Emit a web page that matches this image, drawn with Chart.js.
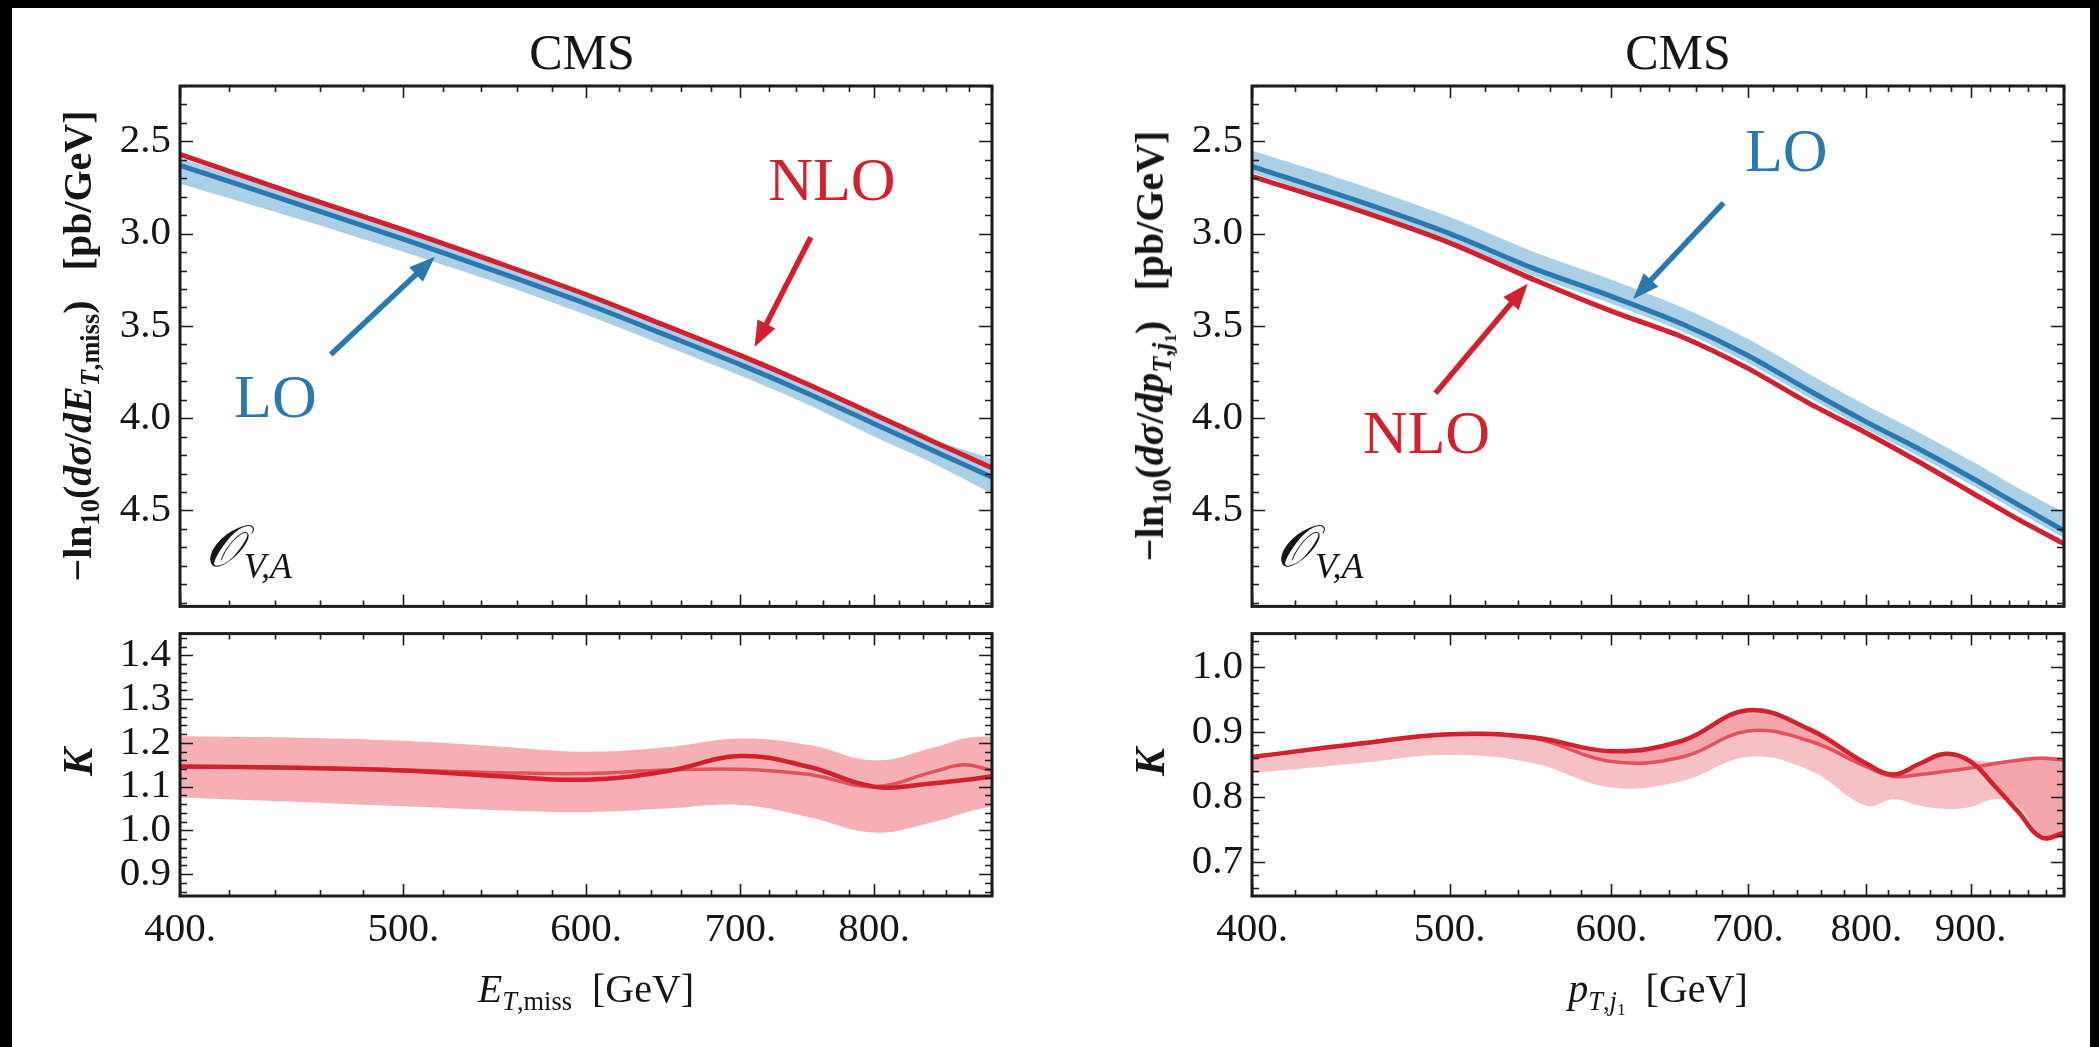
<!DOCTYPE html>
<html>
<head>
<meta charset="utf-8">
<title>CMS: LO and NLO spectra with K factors</title>
<script src="https://cdn.jsdelivr.net/npm/chart.js@4.4.1/dist/chart.umd.min.js"></script>
<style>
  html, body { margin:0; padding:0; width:2099px; height:1047px; background:#000; overflow:hidden; }
  #sheet { position:absolute; left:12px; top:8px; width:2078px; height:1060px; background:#fff; }
  canvas { position:absolute; }
  .lbl { position:absolute; font-family:"Liberation Serif","Times New Roman",serif; color:#151515; white-space:nowrap; line-height:1; }
  .lbl sub { font-size:0.66em; vertical-align:-0.3em; line-height:0; }
  .rot { transform: translate(-50%,-50%) rotate(-90deg); }
  .ctr { transform: translate(-50%,-50%); }
</style>
</head>
<body>
<div id="sheet"></div>

<canvas id="etTop" width="1020" height="640" style="left:0;top:0"></canvas>
<canvas id="etK"   width="1020" height="447" style="left:0;top:600px"></canvas>
<canvas id="ptTop" width="1020" height="640" style="left:1070px;top:0"></canvas>
<canvas id="ptK"   width="1020" height="447" style="left:1070px;top:600px"></canvas>

<div class="lbl ctr" style="left:582px;top:52px;font-size:50px">CMS</div>
<div class="lbl ctr" style="left:1678px;top:52px;font-size:50px">CMS</div>

<div class="lbl rot" style="left:78px;top:346px;font-size:40px;font-weight:bold">&minus;ln<sub>10</sub>(<i>d&sigma;</i>/<i>dE</i><sub><i>T</i>,miss</sub>)&nbsp;&nbsp;&nbsp;[pb/GeV]</div>
<div class="lbl rot" style="left:1150px;top:346px;font-size:40px;font-weight:bold">&minus;ln<sub>10</sub>(<i>d&sigma;</i>/<i>dp</i><sub><i>T</i>,<i>j</i><sub>1</sub></sub>)&nbsp;&nbsp;&nbsp;[pb/GeV]</div>
<div class="lbl rot" style="left:78px;top:762px;font-size:42px;font-weight:bold;font-style:italic">K</div>
<div class="lbl rot" style="left:1150px;top:762px;font-size:42px;font-weight:bold;font-style:italic">K</div>

<div class="lbl ctr" style="left:586px;top:989px;font-size:40px"><i>E</i><sub><i>T</i>,miss</sub>&nbsp;&nbsp;[GeV]</div>
<div class="lbl ctr" style="left:1658px;top:989px;font-size:40px"><i>p</i><sub><i>T</i>,<i>j</i><sub>1</sub></sub>&nbsp;&nbsp;[GeV]</div>

<script>
// ---------- E_T,miss distribution (left column) ----------
const etX      = [400, 450, 500, 550, 600, 650, 700, 750, 800, 850, 900];
const etNLO    = [2.57, 2.79, 2.98, 3.16, 3.33, 3.50, 3.66, 3.82, 3.98, 4.13, 4.27];
const etLO     = [2.63, 2.84, 3.03, 3.21, 3.38, 3.55, 3.71, 3.87, 4.03, 4.18, 4.32];
const etLOlow  = [2.59, 2.80, 2.99, 3.17, 3.34, 3.51, 3.67, 3.83, 3.99, 4.12, 4.22];
const etLOhigh = [2.73, 2.92, 3.10, 3.27, 3.44, 3.61, 3.77, 3.93, 4.10, 4.25, 4.41];

const etKX     = [400, 450, 500, 550, 600, 650, 700, 750, 800, 850, 875, 900];
const etKa     = [1.146, 1.143, 1.137, 1.124, 1.116, 1.135, 1.170, 1.145, 1.100, 1.108, 1.115, 1.124];
const etKb     = [1.146, 1.143, 1.138, 1.132, 1.130, 1.138, 1.140, 1.128, 1.100, 1.135, 1.150, 1.137];
const etKlow   = [1.075, 1.065, 1.055, 1.046, 1.042, 1.050, 1.058, 1.030, 0.995, 1.020, 1.040, 1.055];
const etKhigh  = [1.215, 1.212, 1.205, 1.192, 1.180, 1.190, 1.210, 1.195, 1.160, 1.190, 1.210, 1.215];

// ---------- leading-jet p_T distribution (right column) ----------
const ptX      = [400, 450, 500, 550, 600, 650, 700, 750, 800, 850, 900, 950, 1000];
const ptNLO    = [2.69, 2.87, 3.05, 3.25, 3.42, 3.56, 3.73, 3.92, 4.08, 4.24, 4.40, 4.55, 4.68];
const ptLO     = [2.635, 2.82, 3.00, 3.19, 3.34, 3.49, 3.66, 3.85, 4.02, 4.17, 4.32, 4.47, 4.61];
const ptLOlow  = [2.55, 2.73, 2.91, 3.10, 3.25, 3.40, 3.57, 3.76, 3.93, 4.08, 4.23, 4.38, 4.51];
const ptLOhigh = [2.67, 2.86, 3.04, 3.23, 3.38, 3.53, 3.70, 3.89, 4.06, 4.21, 4.36, 4.51, 4.65];

const ptKX     = [400, 450, 500, 550, 600, 650, 700, 750, 800, 825, 850, 875, 900, 925, 950, 975, 1000];
const ptKa     = [0.862, 0.882, 0.897, 0.892, 0.871, 0.887, 0.934, 0.905, 0.852, 0.835, 0.852, 0.867, 0.855, 0.817, 0.777, 0.738, 0.745];
const ptKb     = [0.862, 0.882, 0.897, 0.891, 0.855, 0.862, 0.902, 0.887, 0.847, 0.832, 0.835, 0.840, 0.845, 0.852, 0.857, 0.860, 0.857];
const ptKlow   = [0.837, 0.852, 0.865, 0.852, 0.815, 0.825, 0.862, 0.842, 0.787, 0.797, 0.787, 0.782, 0.785, 0.797, 0.787, 0.738, 0.737];
const ptKhigh  = [0.865, 0.885, 0.900, 0.895, 0.874, 0.890, 0.937, 0.908, 0.855, 0.838, 0.855, 0.870, 0.858, 0.855, 0.860, 0.863, 0.860];

// ---------- axes ----------
const specTicks = [2.5, 3.0, 3.5, 4.0, 4.5];
const etKTicks  = [0.9, 1.0, 1.1, 1.2, 1.3, 1.4];
const ptKTicks  = [0.7, 0.8, 0.9, 1.0];
const etXTicks  = [400, 500, 600, 700, 800];
const ptXTicks  = [400, 500, 600, 700, 800, 900];

const FONT = '"Liberation Serif", "Times New Roman", serif';
const INK = '#151515';
const RED = '#d3202f', RED_LIGHT = '#e2525e', BLUE = '#2a78b0';
const BLUE_BAND = '#abd0e6', PINK_BAND = '#f5afb5';

const pts = (xs, ys) => xs.map((x, i) => ({ x, y: ys[i] }));
const curve = (xs, ys, color, width, tension) => ({
  data: pts(xs, ys), borderColor: color, borderWidth: width, pointRadius: 0,
  tension: tension, fill: false, borderCapStyle: 'round', borderJoinStyle: 'round'
});
const edge = (xs, ys, fill, bg, tension) => ({
  data: pts(xs, ys), borderWidth: 0, borderColor: 'rgba(0,0,0,0)', pointRadius: 0,
  tension: tension, fill: fill, backgroundColor: bg
});

// Frame with inward ticks on all four sides, placed through the chart's scales
const framePlugin = {
  id: 'frame',
  afterDatasetsDraw(chart) {
    const o = chart.options.plugins.frame;
    const { ctx, chartArea: a } = chart;
    const xs = chart.scales.x, ys = chart.scales.y;
    ctx.save();
    ctx.strokeStyle = '#1b1b1b';
    ctx.lineWidth = 1.6;
    ctx.beginPath();
    const lo = Math.min(ys.min, ys.max), hi = Math.max(ys.min, ys.max);
    for (let k = Math.ceil(lo / o.yStep - 1e-6); k * o.yStep <= hi + 1e-9; k++) {
      const v = k * o.yStep;
      const major = o.yMajor.some(m => Math.abs(m - v) < 1e-6);
      const len = major ? 13 : 7;
      const p = Math.round(ys.getPixelForValue(v)) + 0.5;
      ctx.moveTo(a.left, p); ctx.lineTo(a.left + len, p);
      ctx.moveTo(a.right, p); ctx.lineTo(a.right - len, p);
    }
    for (let v = xs.min; v <= xs.max + 1e-9; v += o.xStep) {
      const major = o.xMajor.includes(v);
      const len = major ? 12 : 6;
      const p = Math.round(xs.getPixelForValue(v)) + 0.5;
      ctx.moveTo(p, a.bottom); ctx.lineTo(p, a.bottom - len);
      ctx.moveTo(p, a.top); ctx.lineTo(p, a.top + len);
    }
    ctx.stroke();
    ctx.lineWidth = 3;
    ctx.strokeRect(a.left, a.top, a.right - a.left, a.bottom - a.top);
    ctx.restore();
  }
};

// Curve labels, arrows and the operator tag, anchored in data coordinates
const notePlugin = {
  id: 'notes',
  afterDatasetsDraw(chart) {
    const o = chart.options.plugins.notes;
    if (!o) return;
    const { ctx } = chart;
    const xs = chart.scales.x, ys = chart.scales.y;
    const px = p => [xs.getPixelForValue(p[0]), ys.getPixelForValue(p[1])];
    ctx.save();
    (o.arrows || []).forEach(ar => {
      const [x0, y0] = px(ar.from), [x1, y1] = px(ar.to);
      const ang = Math.atan2(y1 - y0, x1 - x0);
      const hl = 26, hw = 10;
      const bx = x1 - hl * Math.cos(ang), by = y1 - hl * Math.sin(ang);
      ctx.strokeStyle = ar.color; ctx.fillStyle = ar.color;
      ctx.lineWidth = 5.5; ctx.lineCap = 'butt';
      ctx.beginPath(); ctx.moveTo(x0, y0); ctx.lineTo(bx + 4 * Math.cos(ang), by + 4 * Math.sin(ang)); ctx.stroke();
      ctx.beginPath();
      ctx.moveTo(x1, y1);
      ctx.lineTo(bx + hw * Math.sin(ang), by - hw * Math.cos(ang));
      ctx.lineTo(bx - hw * Math.sin(ang), by + hw * Math.cos(ang));
      ctx.closePath(); ctx.fill();
    });
    (o.texts || []).forEach(t => {
      const [x, y] = px(t.at);
      ctx.font = t.font; ctx.fillStyle = t.color;
      ctx.textAlign = 'center'; ctx.textBaseline = 'middle';
      ctx.fillText(t.text, x, y);
    });
    if (o.tag) {
      const [x, y] = px(o.tag.at);
      ctx.fillStyle = INK; ctx.textAlign = 'left'; ctx.textBaseline = 'alphabetic';
      ctx.font = 'italic 58px ' + FONT;
      ctx.fillText('\u{1D4AA}', x, y);
      const w = ctx.measureText('\u{1D4AA}').width;
      ctx.font = 'italic 36px ' + FONT;
      ctx.fillText('V,A', x + w + 2, y + 12);
    }
    ctx.restore();
  }
};

function yAxis(min, max, ticks, width, reverse) {
  return {
    type: 'linear', position: 'left', reverse, min, max,
    grid: { display: false, drawTicks: false }, border: { display: false },
    afterBuildTicks: s => { s.ticks = ticks.map(v => ({ value: v })); },
    afterFit: s => { s.width = width; },
    ticks: { font: { family: FONT, size: 41 }, color: INK, padding: 9, autoSkip: false,
             callback: v => Number(v).toFixed(1) }
  };
}
function xAxis(max, ticks, show) {
  const ax = {
    type: 'logarithmic', min: 400, max, display: show,
    grid: { display: false, drawTicks: false }, border: { display: false }
  };
  if (show) {
    ax.afterBuildTicks = s => { s.ticks = ticks.map(v => ({ value: v })); };
    ax.afterFit = s => { s.height = 151; };
    ax.ticks = { font: { family: FONT, size: 41 }, color: INK, padding: 10,
                 autoSkip: false, maxRotation: 0, callback: v => v + '.' };
  }
  return ax;
}
function make(id, datasets, scales, padding, frame, notes) {
  return new Chart(document.getElementById(id), {
    type: 'line',
    data: { datasets },
    options: {
      responsive: false, animation: false, devicePixelRatio: 1,
      layout: { padding },
      scales,
      plugins: { legend: { display: false }, tooltip: { enabled: false }, frame, notes: notes || null }
    },
    plugins: [framePlugin, notePlugin]
  });
}

// Left column, spectrum
make('etTop', [
    curve(etX, etNLO, RED, 5, 0.3),
    curve(etX, etLO, BLUE, 5, 0.3),
    edge(etX, etLOhigh, '+1', BLUE_BAND, 0.3),
    edge(etX, etLOlow, false, BLUE_BAND, 0.3)
  ],
  { x: xAxis(900, etXTicks, false), y: yAxis(2.2, 5.02, specTicks, 180, true) },
  { top: 86, right: 28, bottom: 18, left: 0 },
  { yStep: 0.1, yMajor: specTicks, xStep: 20, xMajor: etXTicks },
  {
    texts: [
      { text: 'NLO', at: [767, 2.73], font: '62px ' + FONT, color: RED },
      { text: 'LO', at: [440, 3.905], font: '62px ' + FONT, color: BLUE }
    ],
    arrows: [
      { from: [751, 3.02], to: [710, 3.615], color: RED },
      { from: [465, 3.655], to: [516, 3.125], color: BLUE }
    ],
    tag: { at: [410, 4.80] }
  });

// Left column, K factor
make('etK', [
    curve(etKX, etKa, RED, 4.5, 0.4),
    curve(etKX, etKb, RED_LIGHT, 3.5, 0.4),
    edge(etKX, etKhigh, '+1', PINK_BAND, 0.4),
    edge(etKX, etKlow, false, PINK_BAND, 0.4)
  ],
  { x: xAxis(900, etXTicks, true), y: yAxis(0.85, 1.45, etKTicks, 180, false) },
  { top: 22, right: 28, bottom: 0, left: 0 },
  { yStep: 0.02, yMajor: etKTicks, xStep: 20, xMajor: etXTicks });

// Right column, spectrum
make('ptTop', [
    curve(ptX, ptNLO, RED, 5, 0.25),
    curve(ptX, ptLO, BLUE, 5, 0.25),
    edge(ptX, ptLOhigh, '+1', BLUE_BAND, 0.25),
    edge(ptX, ptLOlow, false, BLUE_BAND, 0.25)
  ],
  { x: xAxis(1000, ptXTicks, false), y: yAxis(2.2, 5.02, specTicks, 182, true) },
  { top: 86, right: 26, bottom: 18, left: 0 },
  { yStep: 0.1, yMajor: specTicks, xStep: 20, xMajor: ptXTicks },
  {
    texts: [
      { text: 'LO', at: [731, 2.573], font: '62px ' + FONT, color: BLUE },
      { text: 'NLO', at: [487, 4.10], font: '62px ' + FONT, color: RED }
    ],
    arrows: [
      { from: [681, 2.833], to: [615, 3.354], color: BLUE },
      { from: [492, 3.865], to: [546, 3.271], color: RED }
    ],
    tag: { at: [411, 4.80] }
  });

// Right column, K factor
make('ptK', [
    curve(ptKX, ptKa, RED, 4.5, 0.4),
    curve(ptKX, ptKb, RED_LIGHT, 3.5, 0.4),
    edge(ptKX, ptKa, '+1', 'rgba(236,110,122,0.32)', 0.4),
    edge(ptKX, ptKb, false, 'rgba(0,0,0,0)', 0.4),
    edge(ptKX, ptKhigh, '+1', 'rgba(240,140,150,0.55)', 0.4),
    edge(ptKX, ptKlow, false, 'rgba(0,0,0,0)', 0.4)
  ],
  { x: xAxis(1000, ptXTicks, true), y: yAxis(0.648, 1.052, ptKTicks, 182, false) },
  { top: 22, right: 26, bottom: 0, left: 0 },
  { yStep: 0.02, yMajor: ptKTicks, xStep: 20, xMajor: ptXTicks });
</script>
</body>
</html>
